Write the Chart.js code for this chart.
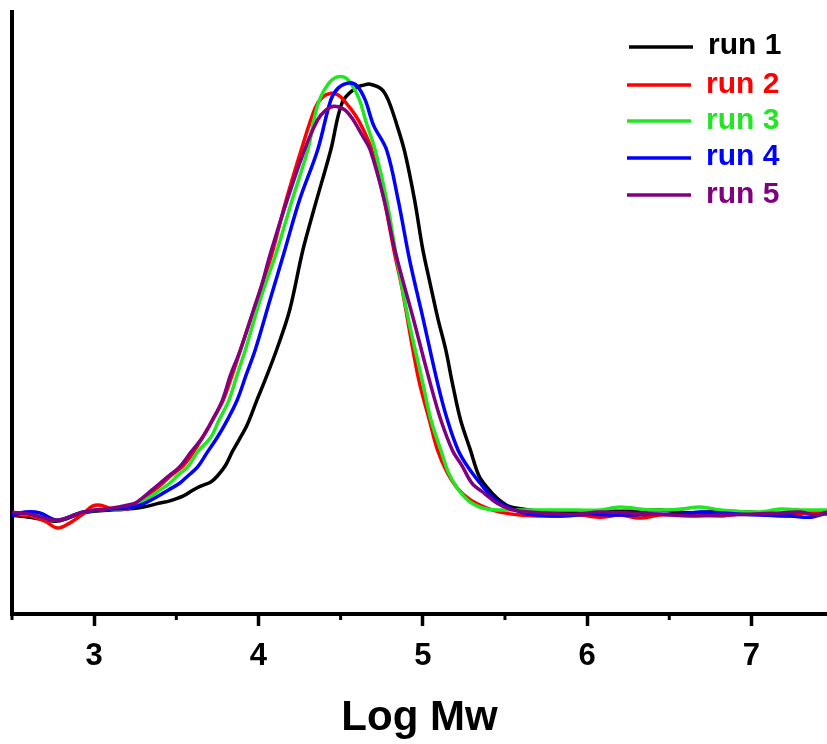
<!DOCTYPE html>
<html>
<head>
<meta charset="utf-8">
<script src="https://cdn.jsdelivr.net/npm/chart.js@4.4.1/dist/chart.umd.min.js"></script>
<style>
  html, body { margin: 0; padding: 0; background: #ffffff; }
  #c { display: block; }
</style>
</head>
<body>
<canvas id="c" width="827" height="744"></canvas>
<script>
// ---- Data (x = Log Mw, y = normalised detector response) ----
const seriesLabels = ['run 1', 'run 2', 'run 3', 'run 4', 'run 5'];
const seriesColors = ['#000000', '#ff0000', '#22e622', '#0000ff', '#800080'];

const run1X = [2.49,2.61,2.775,2.93,3.10,3.20,3.30,3.40,3.46,3.54,3.60,3.645,3.71,3.75,3.80,3.84,3.88,3.93,3.99,4.04,4.11,4.19,4.27,4.345,4.44,4.51,4.59,4.64,4.68,4.75,4.79,4.84,4.89,4.95,5.00,5.045,5.09,5.14,5.18,5.23,5.29,5.34,5.39,5.45,5.51,5.575,5.715,5.90,6.08,6.26,6.445,6.63,6.81,6.99,7.175,7.36,7.46];
const run1Y = [0,-0.005,-0.014,0.005,0.012,0.014,0.019,0.028,0.033,0.044,0.058,0.067,0.077,0.091,0.116,0.147,0.174,0.209,0.267,0.314,0.384,0.477,0.616,0.721,0.849,0.960,0.993,1.000,1.002,0.990,0.965,0.910,0.845,0.733,0.618,0.538,0.460,0.384,0.307,0.221,0.151,0.093,0.065,0.040,0.023,0.016,0.009,0.007,0.009,0.009,0.012,0.005,0.009,0.007,0.002,0.007,0.009];

const run2X = [2.49,2.61,2.70,2.775,2.84,2.93,2.99,3.04,3.11,3.20,3.26,3.31,3.35,3.41,3.47,3.54,3.60,3.66,3.72,3.785,3.84,3.89,3.95,4.01,4.08,4.16,4.26,4.345,4.39,4.44,4.485,4.53,4.59,4.64,4.69,4.765,4.83,4.87,4.905,4.94,4.98,5.04,5.09,5.15,5.21,5.29,5.39,5.47,5.59,5.715,5.84,5.96,6.08,6.20,6.32,6.445,6.63,6.81,6.99,7.11,7.24,7.36,7.46];
const run2Y = [0.002,-0.002,-0.014,-0.030,-0.021,0.002,0.021,0.023,0.014,0.014,0.023,0.037,0.053,0.072,0.093,0.114,0.144,0.181,0.221,0.267,0.326,0.384,0.453,0.523,0.605,0.721,0.849,0.947,0.972,0.981,0.977,0.960,0.930,0.895,0.849,0.733,0.605,0.535,0.460,0.384,0.307,0.221,0.151,0.098,0.063,0.035,0.016,0.007,0,-0.002,-0.002,0,-0.005,0,-0.007,0,0.002,-0.002,0.005,0,-0.002,0.007,0.002];

const run3X = [2.49,2.61,2.775,2.93,3.10,3.20,3.28,3.34,3.40,3.46,3.51,3.57,3.63,3.71,3.76,3.82,3.87,3.92,4.01,4.11,4.205,4.30,4.36,4.42,4.48,4.54,4.61,4.655,4.71,4.78,4.84,4.91,5.00,5.05,5.11,5.155,5.215,5.29,5.39,5.53,5.65,5.84,6.08,6.20,6.38,6.57,6.69,6.81,7.05,7.175,7.30,7.46];
const run3Y = [0.005,0.002,-0.012,0.007,0.014,0.016,0.028,0.042,0.058,0.074,0.093,0.112,0.147,0.181,0.221,0.267,0.326,0.384,0.500,0.612,0.733,0.849,0.953,1.000,1.019,1.014,0.970,0.914,0.849,0.733,0.600,0.460,0.307,0.221,0.151,0.100,0.060,0.030,0.014,0.012,0.012,0.012,0.012,0.019,0.012,0.014,0.019,0.012,0.007,0.014,0.012,0.012];

const run4X = [2.49,2.58,2.67,2.775,2.93,3.10,3.20,3.28,3.38,3.45,3.52,3.57,3.63,3.69,3.75,3.81,3.87,3.925,3.98,4.07,4.16,4.25,4.36,4.44,4.485,4.55,4.60,4.65,4.70,4.78,4.85,4.92,5.00,5.09,5.15,5.215,5.28,5.35,5.41,5.47,5.56,5.65,5.84,6.02,6.20,6.38,6.57,6.69,6.93,7.05,7.24,7.36,7.46];
const run4Y = [-0.002,0.007,0.005,-0.012,0.007,0.014,0.016,0.023,0.042,0.058,0.074,0.091,0.112,0.147,0.181,0.221,0.267,0.326,0.384,0.500,0.616,0.733,0.849,0.965,0.993,1.005,0.998,0.965,0.907,0.849,0.733,0.593,0.460,0.307,0.221,0.151,0.109,0.074,0.047,0.028,0.012,0.002,-0.002,0.002,0,0.002,0.002,0.007,0.002,0,-0.002,-0.005,0.005];

const run5X = [2.49,2.61,2.775,2.93,3.10,3.20,3.25,3.30,3.35,3.40,3.46,3.52,3.59,3.66,3.72,3.78,3.83,3.89,3.97,4.02,4.07,4.175,4.28,4.36,4.41,4.46,4.52,4.57,4.63,4.68,4.765,4.83,4.94,5.045,5.11,5.18,5.24,5.30,5.38,5.45,5.53,5.65,5.90,6.08,6.26,6.445,6.63,6.81,6.99,7.175,7.30,7.39,7.46];
const run5Y = [0.007,0.002,-0.012,0.007,0.016,0.023,0.028,0.042,0.058,0.074,0.093,0.112,0.147,0.181,0.221,0.267,0.326,0.384,0.477,0.535,0.605,0.733,0.849,0.919,0.942,0.951,0.944,0.923,0.884,0.849,0.733,0.616,0.460,0.307,0.221,0.151,0.114,0.074,0.049,0.028,0.014,0.007,0.002,0.007,0.005,0.002,-0.002,0,0.002,0.005,0.007,0,0.007];

const xTickMin = 2.5, xTickMax = 7.46, xStep = 0.5;
const yMin = -0.230, yMax = 1.170;
const xTitle = 'Log Mw';

const seriesX = [run1X, run2X, run3X, run4X, run5X];
const seriesY = [run1Y, run2Y, run3Y, run4Y, run5Y];

const FONT = "'Liberation Sans', Arial, Helvetica, sans-serif";

const datasets = seriesLabels.map((label, i) => ({
  label,
  data: seriesX[i].map((x, k) => ({ x, y: seriesY[i][k] })),
  borderColor: seriesColors[i],
  backgroundColor: seriesColors[i],
  borderWidth: 3.5,
  pointRadius: 0,
  fill: false,
  tension: 0.35,
  order: seriesLabels.length - i
}));

// minor ticks (half units) and the legend box
const decorPlugin = {
  id: 'decor',
  afterDraw(chart) {
    const ctx = chart.ctx;
    const xs = chart.scales.x;
    const bottom = chart.chartArea.bottom;
    ctx.save();
    ctx.strokeStyle = '#000';
    ctx.lineWidth = 3;
    xs.ticks.forEach(t => {
      if (!Number.isInteger(t.value)) {
        const px = xs.getPixelForValue(t.value);
        ctx.beginPath();
        ctx.moveTo(px, bottom);
        ctx.lineTo(px, bottom + 6);
        ctx.stroke();
      }
    });
    // legend
    const lineY = [47, 85, 121, 158, 195];
    const textY = [54, 93, 129, 165, 203];
    ctx.font = 'bold 30px ' + FONT;
    ctx.textBaseline = 'alphabetic';
    ctx.textAlign = 'left';
    chart.data.datasets.forEach((ds, i) => {
      ctx.strokeStyle = ds.borderColor;
      ctx.lineWidth = 3.5;
      ctx.beginPath();
      ctx.moveTo(i === 0 ? 629 : 627, lineY[i]);
      ctx.lineTo(i === 0 ? 693 : 691, lineY[i]);
      ctx.stroke();
      ctx.fillStyle = ds.borderColor;
      ctx.fillText(ds.label, i === 0 ? 708 : 706, textY[i]);
    });
    ctx.restore();
  }
};

new Chart(document.getElementById('c'), {
  type: 'line',
  data: { datasets },
  plugins: [decorPlugin],
  options: {
    responsive: false,
    animation: false,
    devicePixelRatio: 1,
    layout: { padding: { left: 12, right: 0, top: 12, bottom: 0 } },
    plugins: { legend: { display: false }, tooltip: { enabled: false } },
    scales: {
      x: {
        type: 'linear',
        min: xTickMin,
        max: xTickMax,
        afterFit: (s) => { s.height = 130; s.paddingLeft = 0; s.paddingRight = 0; },
        grid: {
          display: true,
          drawOnChartArea: false,
          drawTicks: true,
          tickLength: 12,
          tickWidth: 3.5,
          tickColor: (c) => (c.tick && Number.isInteger(c.tick.value)) ? '#000' : 'rgba(0,0,0,0)'
        },
        border: { display: true, color: '#000', width: 4 },
        ticks: {
          stepSize: xStep,
          includeBounds: false,
          autoSkip: false,
          maxRotation: 0,
          padding: 12,
          color: '#000',
          font: { family: FONT, size: 31, weight: 'bold' },
          callback: (v) => Number.isInteger(v) ? String(v) : ''
        },
        title: {
          display: true,
          text: xTitle,
          color: '#000',
          font: { family: FONT, size: 42, weight: 'bold' },
          padding: { top: 4, bottom: 0 }
        }
      },
      y: {
        type: 'linear',
        min: yMin,
        max: yMax,
        afterFit: (s) => { s.width = 0; },
        grid: { display: false, drawTicks: false },
        border: { display: true, color: '#000', width: 4 },
        ticks: { display: false }
      }
    }
  }
});
</script>
</body>
</html>
